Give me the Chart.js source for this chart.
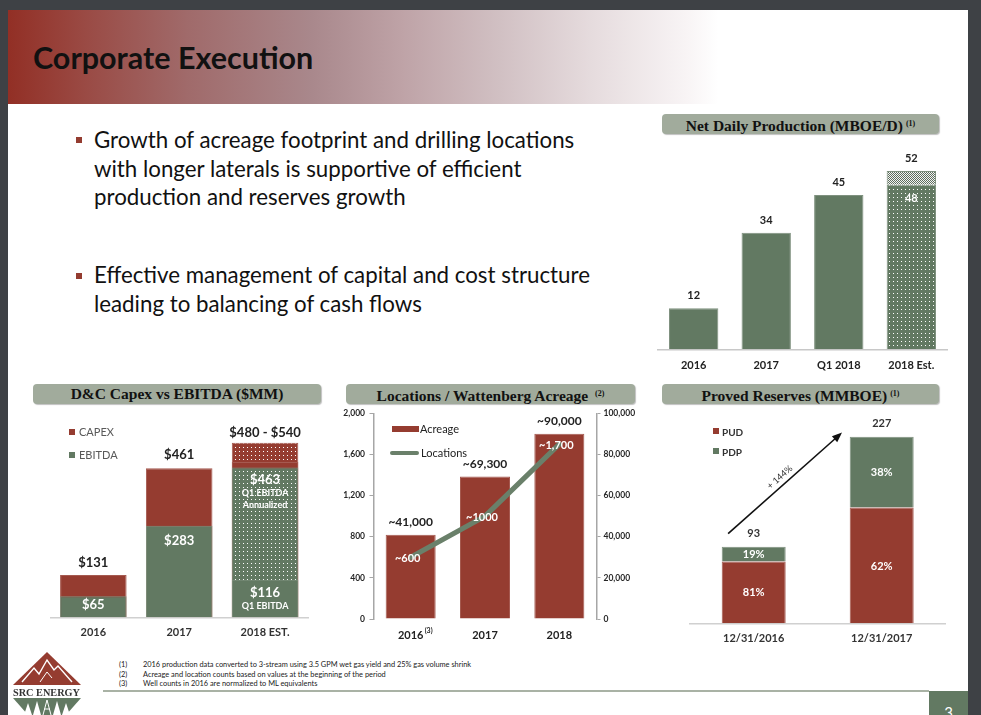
<!DOCTYPE html>
<html>
<head>
<meta charset="utf-8">
<script src="https://cdn.jsdelivr.net/npm/chart.js@4.4.0/dist/chart.umd.min.js"></script>
<style>
  body { margin: 0; width: 981px; height: 715px; background: #3e4145; overflow: hidden; font-family: Lato, sans-serif; position: relative; }
  .abs { position: absolute; }
  #slide { left: 8px; top: 10px; width: 960px; height: 705px; background: #fff; }
  #header { left: 8px; top: 10px; width: 960px; height: 94px;
    background: linear-gradient(to right, #922f25 0%, #9a4a44 8%, #a06a6a 18.6%, #a9888c 31.7%, #bea2a6 40.8%, #d1c0c3 51.2%, #e6dcde 61%, #f8f4f5 70.7%, #fff 74%); }
  #title { left: 33px; top: 37px; font-size: 30.5px; font-weight: bold; color: #111; white-space: nowrap; line-height: 40px; }
  .bullet { left: 94px; font-size: 22.3px; line-height: 28.5px; color: #111; white-space: nowrap; }
  .sq { width: 6px; height: 6px; background: #943c30; }
  .banner { background: #a1ab9c; border-radius: 4px; box-shadow: 1px 1px 1px rgba(0,0,0,0.25);
    font-family: "Liberation Serif", serif; font-weight: bold; font-size: 15.5px; color: #111;
    text-align: center; line-height: 20px; height: 20px; white-space: nowrap; }
  .banner sup { font-size: 8px; vertical-align: 5px; margin-left: 3px; }
  .leg { font-size: 11px; white-space: nowrap; line-height: 12px; }
  .foot { font-size: 7.4px; color: #222; white-space: nowrap; line-height: 9px; }
  canvas { position: absolute; }
</style>
</head>
<body>
<div id="slide" class="abs"></div>
<div id="header" class="abs"></div>
<div id="title" class="abs">Corporate Execution</div>

<div class="abs sq" style="left:76px; top:137px;"></div>
<div class="abs bullet" style="top:126px;">Growth of acreage footprint and drilling locations<br>with longer laterals is supportive of efficient<br>production and reserves growth</div>
<div class="abs sq" style="left:76px; top:273px;"></div>
<div class="abs bullet" style="top:261px;">Effective management of capital and cost structure<br>leading to balancing of cash flows</div>

<div class="abs banner" style="left:662px; top:114px; width:277px;">Net Daily Production (MBOE/D)<sup>(1)</sup></div>
<div class="abs banner" style="left:33px; top:384px; width:288px;">D&amp;C Capex vs EBITDA ($MM)</div>
<div class="abs banner" style="left:346px; top:384px; width:289px;">Locations / Wattenberg Acreage <sup>(2)</sup></div>
<div class="abs banner" style="left:662px; top:384px; width:277px;">Proved Reserves (MMBOE)<sup>(1)</sup></div>

<canvas id="prodChart" width="320" height="240" style="left:640px; top:140px;"></canvas>
<canvas id="capexChart" width="300" height="240" style="left:30px; top:410px;"></canvas>
<canvas id="locChart" width="325" height="250" style="left:325px; top:400px;"></canvas>
<canvas id="resChart" width="300" height="245" style="left:660px; top:405px;"></canvas>

<!-- legends -->
<div class="abs" style="left:69px; top:429px; width:6px; height:6px; background:#953c30;"></div>
<div class="abs leg" style="left:79px; top:426px; color:#595959;">CAPEX</div>
<div class="abs" style="left:69px; top:452px; width:6px; height:6px; background:#627962;"></div>
<div class="abs leg" style="left:79px; top:449px; color:#595959;">EBITDA</div>

<div class="abs" style="left:392px; top:426px; width:27px; height:6px; background:#953c30;"></div>
<div class="abs leg" style="left:420px; top:423px; color:#222;">Acreage</div>
<div class="abs" style="left:390px; top:451px; width:29px; height:4px; border-radius:2px; background:#6a806a;"></div>
<div class="abs leg" style="left:421px; top:447px; color:#222;">Locations</div>

<div class="abs" style="left:713px; top:428px; width:6px; height:6px; background:#953c30;"></div>
<div class="abs leg" style="left:722px; top:426px; color:#333; font-weight:bold; font-size:10px;">PUD</div>
<div class="abs" style="left:713px; top:448px; width:6px; height:6px; background:#627962;"></div>
<div class="abs leg" style="left:722px; top:446px; color:#333; font-weight:bold; font-size:10px;">PDP</div>

<!-- footnotes -->
<div class="abs foot" style="left:119px; top:660px;">(1)</div>
<div class="abs foot" style="left:143px; top:660px;">2016 production data converted to 3-stream using 3.5 GPM wet gas yield and 25% gas volume shrink</div>
<div class="abs foot" style="left:119px; top:670px;">(2)</div>
<div class="abs foot" style="left:143px; top:670px;">Acreage and location counts based on values at the beginning of the period</div>
<div class="abs foot" style="left:119px; top:679px;">(3)</div>
<div class="abs foot" style="left:143px; top:679px;">Well counts in 2016 are normalized to ML equivalents</div>
<div class="abs" style="left:103px; top:690px; width:826px; height:2px; background:#a9b2a5;"></div>
<div class="abs" style="left:929px; top:691px; width:39px; height:24px; background:#627962; color:#fff; font-size:15px; text-align:center; line-height:42px; overflow:hidden;">3</div>

<!-- logo -->
<svg class="abs" style="left:0; top:640px;" width="100" height="75" viewBox="0 640 100 75">
  <polygon points="47,652 13,685 81,685" fill="#953c30"/>
  <polyline points="22,682 34,668 39,674 47,660 54,670 58,666 72,682" fill="none" stroke="#fff" stroke-width="1.4"/>
  <polyline points="40,682 47,672 52,678" fill="none" stroke="#fff" stroke-width="1"/>
  <text x="13" y="696" textLength="67" lengthAdjust="spacingAndGlyphs" font-family="Liberation Serif" font-weight="bold" font-size="11" fill="#333">SRC ENERGY</text>
  <polygon points="13,698 81,698 66,715 28,715" fill="#627962"/>
  <polygon points="24,715 28,703 32,715" fill="#fff"/>
  <polygon points="33,715 37,701 41,715" fill="#fff"/>
  <polygon points="53,715 57,701 61,715" fill="#fff"/>
  <polygon points="62,715 66,703 70,715" fill="#fff"/>
  <polyline points="43,715 47,700 51,715" fill="none" stroke="#fff" stroke-width="1"/>
  <line x1="44" y1="709" x2="50" y2="709" stroke="#fff" stroke-width="1"/>
</svg>

<script>
// ---- data ----
const prodCategories = ['2016', '2017', 'Q1 2018', '2018 Est.'];
const prodBase = [12, 34, 45, 48];
const prodUpside = [0, 0, 0, 4];
const prodLabels = ['12', '34', '45', '52'];

const capexCategories = ['2016', '2017', '2018 EST.'];
const capexLow = [131, 461, 480];
const capexHigh = [null, null, 540];
const ebitda = [65, 283, 116];
const ebitdaAnnualized = [null, null, 463];

const locCategories = ['2016', '2017', '2018'];
const acreage = [41000, 69300, 90000];
const locations = [600, 1000, 1700];
const acreageLabels = ['~41,000', '~69,300', '~90,000'];
const locationLabels = ['~600', '~1000', '~1,700'];
const locLeftTicks = [0, 400, 800, 1200, 1600, 2000];
const locRightTicks = [0, 20000, 40000, 60000, 80000, 100000];

const resCategories = ['12/31/2016', '12/31/2017'];
const resTotals = [93, 227];
const pudShare = [81, 62];
const pdpShare = [19, 38];
const resGrowthLabel = '+ 144%';

// ---- styles ----
const RED = '#953c30';
const GREEN = '#627962';
const LABEL_DARK = '#222';

function dots(bg, fg, size, pts) {
  const c = document.createElement('canvas');
  c.width = c.height = size;
  const g = c.getContext('2d');
  g.fillStyle = bg;
  g.fillRect(0, 0, size, size);
  g.fillStyle = fg;
  pts.forEach(p => g.fillRect(p[0], p[1], 1, 1));
  return g.createPattern(c, 'repeat');
}
const greenDots = dots(GREEN, '#ffffff', 4, [[1, 1]]);
const redDots = dots(RED, '#ffffff', 4, [[1, 1]]);
const greyDots = dots('#f4f4f4', '#5e6f5e', 2, [[0, 0], [1, 1]]);

// draws text items anchored on bars / points
const barLabels = {
  id: 'barLabels',
  afterDatasetsDraw(chart, args, opts) {
    const ctx = chart.ctx;
    (opts.items || []).forEach(it => {
      const el = chart.getDatasetMeta(it.ds).data[it.i];
      let y = it.center ? (el.y + el.base) / 2 : el.y;
      ctx.save();
      ctx.font = it.font;
      ctx.fillStyle = it.color;
      ctx.textAlign = 'center';
      ctx.textBaseline = 'middle';
      ctx.fillText(it.text, el.x + (it.dx || 0), y + (it.dy || 0));
      ctx.restore();
    });
  }
};

const xTickFont = { family: 'Lato', weight: 'bold', size: 11 };
const noTips = { legend: { display: false }, tooltip: { enabled: false } };

// ---- Net Daily Production ----
const prodItems = prodLabels.map((t, i) => ({
  ds: prodUpside[i] > 0 ? 1 : 0, i, text: t, dy: -12.7,
  font: 'bold 11px Lato', color: LABEL_DARK
}));
prodItems.push({ ds: 0, i: 3, text: String(prodBase[3]), dy: 13.6, font: 'bold 11px Lato', color: '#fff' });

new Chart(document.getElementById('prodChart'), {
  type: 'bar',
  data: {
    labels: prodCategories,
    datasets: [
      { data: prodBase, backgroundColor: prodBase.map((v, i) => prodUpside[i] ? greenDots : GREEN),
        borderColor: '#7f917f', borderWidth: 1, barPercentage: 0.68, categoryPercentage: 1 },
      { data: prodUpside, backgroundColor: greyDots, borderColor: '#7f917f', borderWidth: 1,
        barPercentage: 0.68, categoryPercentage: 1 }
    ]
  },
  options: {
    responsive: false, animation: false,
    layout: { padding: { left: 17.4, right: 12.4, top: 3.5, bottom: 4.7 } },
    plugins: Object.assign({ barLabels: { items: prodItems } }, noTips),
    scales: {
      x: { stacked: true, grid: { display: false, drawTicks: false },
           border: { display: true, color: '#c8c8c8', width: 1.5 },
           ticks: { color: LABEL_DARK, font: xTickFont, padding: 10 },
           afterFit: s => { s.height = 26; } },
      y: { stacked: true, display: false, min: 0, max: 60 }
    }
  },
  plugins: [barLabels]
});

// ---- D&C Capex vs EBITDA ----
const big = 'bold 13px Lato', small = 'bold 9px Lato';
const capexItems = [
  { ds: 2, i: 0, text: '$131', dy: -12.6, font: big, color: LABEL_DARK },
  { ds: 2, i: 1, text: '$461', dy: -13, font: big, color: LABEL_DARK },
  { ds: 3, i: 2, text: '$480 - $540', dy: -9.4, font: big, color: LABEL_DARK },
  { ds: 0, i: 0, text: '$65', dy: 9, font: big, color: '#fff' },
  { ds: 0, i: 1, text: '$283', dy: 14.6, font: big, color: '#fff' },
  { ds: 1, i: 2, text: '$463', dy: 12.4, font: big, color: '#fff' },
  { ds: 1, i: 2, text: 'Q1 EBITDA', dy: 25.7, font: small, color: '#fff' },
  { ds: 1, i: 2, text: 'Annualized', dy: 37.4, font: small, color: '#fff' },
  { ds: 0, i: 2, text: '$116', dy: 13.5, font: big, color: '#fff' },
  { ds: 0, i: 2, text: 'Q1 EBITDA', dy: 26, font: small, color: '#fff' }
];
const capexBar = { grouped: false, barPercentage: 0.775, categoryPercentage: 1, borderWidth: 1 };

new Chart(document.getElementById('capexChart'), {
  type: 'bar',
  data: {
    labels: capexCategories,
    datasets: [
      Object.assign({ label: 'EBITDA', data: ebitda, backgroundColor: GREEN, borderColor: '#7f917f' }, capexBar),
      Object.assign({ label: 'EBITDA annualized', data: ebitdaAnnualized, backgroundColor: greenDots, borderColor: '#7f917f' }, capexBar),
      Object.assign({ label: 'CAPEX', data: capexLow, backgroundColor: RED, borderColor: '#a55a50' }, capexBar),
      Object.assign({ label: 'CAPEX high', data: capexHigh, backgroundColor: redDots, borderColor: '#a55a50' }, capexBar)
    ]
  },
  options: {
    responsive: false, animation: false,
    layout: { padding: { left: 20.4, right: 22, top: 13.3, bottom: 6.7 } },
    plugins: Object.assign({ barLabels: { items: capexItems } }, noTips),
    scales: {
      x: { grid: { display: false, drawTicks: false },
           border: { display: true, color: '#d0d0d0', width: 1.5 },
           ticks: { color: '#333', font: xTickFont, padding: 9 },
           afterFit: s => { s.height = 26; } },
      y: { display: false, min: 0, max: 600 }
    }
  },
  plugins: [barLabels]
});

// ---- Locations / Wattenberg Acreage ----
const locItems = acreageLabels.map((t, i) => ({ ds: 1, i, text: t, dy: -12.3, font: 'bold 12px Lato', color: LABEL_DARK }))
  .concat(locationLabels.map((t, i) => ({ ds: 0, i, text: t, dx: -3, dy: 1, font: 'bold 11px Lato', color: '#fff' })));

const footnoteMark = {
  id: 'footnoteMark',
  afterDraw(chart) {
    const ctx = chart.ctx, x = chart.scales.x;
    ctx.save();
    ctx.font = 'bold 7px Lato';
    ctx.fillStyle = LABEL_DARK;
    ctx.textBaseline = 'middle';
    ctx.fillText('(3)', x.getPixelForValue(0) + 14, x.top + 12);
    ctx.restore();
  }
};
const axisTickFont = { family: 'Lato', weight: 'bold', size: 8.5 };
const axisGray = '#a6a6a6';

new Chart(document.getElementById('locChart'), {
  data: {
    labels: locCategories,
    datasets: [
      { type: 'line', label: 'Locations', data: locations, yAxisID: 'y', order: 0,
        borderColor: '#6a806a', borderWidth: 5, pointRadius: 0, borderCapStyle: 'round', tension: 0 },
      { type: 'bar', label: 'Acreage', data: acreage, yAxisID: 'y1', order: 1,
        backgroundColor: RED, borderColor: '#a55a50', borderWidth: 1,
        barPercentage: 0.673, categoryPercentage: 1 }
    ]
  },
  options: {
    responsive: false, animation: false,
    layout: { padding: { left: 0, right: 0, top: 13.3, bottom: 0 } },
    plugins: Object.assign({ barLabels: { items: locItems } }, noTips),
    scales: {
      x: { grid: { display: false, drawTicks: false }, border: { display: false },
           ticks: { color: LABEL_DARK, font: xTickFont, padding: 9.4 },
           afterFit: s => { s.height = 31; } },
      y: { position: 'left', min: 0, max: 2000,
           afterBuildTicks: s => { s.ticks = locLeftTicks.map(v => ({ value: v })); },
           grid: { display: true, drawOnChartArea: false, drawTicks: true, tickLength: 4, color: axisGray },
           border: { display: true, color: axisGray, width: 1.5 },
           ticks: { color: '#262626', font: axisTickFont, padding: 4.5, callback: v => v.toLocaleString('en-US') },
           afterFit: s => { s.width = 48.5; } },
      y1: { position: 'right', min: 0, max: 100000,
           afterBuildTicks: s => { s.ticks = locRightTicks.map(v => ({ value: v })); },
           grid: { display: true, drawOnChartArea: false, drawTicks: true, tickLength: 4, color: axisGray },
           border: { display: true, color: axisGray, width: 1.5 },
           ticks: { color: '#262626', font: axisTickFont, padding: 3, callback: v => v.toLocaleString('en-US') },
           afterFit: s => { s.width = 53.5; } }
    }
  },
  plugins: [barLabels, footnoteMark]
});

// ---- Proved Reserves ----
const pud = resTotals.map((t, i) => t * pudShare[i] / 100);
const pdp = resTotals.map((t, i) => t * pdpShare[i] / 100);
const resItems = resTotals.map((t, i) => ({ ds: 1, i, text: String(t), dy: -13, font: 'bold 11px Lato', color: '#333' }))
  .concat(pudShare.map((p, i) => ({ ds: 0, i, text: p + '%', center: true, dy: 0.5, font: 'bold 11px Lato', color: '#fff' })))
  .concat(pdpShare.map((p, i) => ({ ds: 1, i, text: p + '%', center: true, dy: 0.5, font: 'bold 11px Lato', color: '#fff' })));

const growthArrow = {
  id: 'growthArrow',
  afterDatasetsDraw(chart) {
    const ctx = chart.ctx, x = chart.scales.x, y = chart.scales.y;
    const x0 = x.getPixelForValue(-0.2), y0 = y.getPixelForValue(109);
    const x1 = x.getPixelForValue(0.69), y1 = y.getPixelForValue(232);
    const a = Math.atan2(y1 - y0, x1 - x0);
    ctx.save();
    ctx.strokeStyle = '#111';
    ctx.fillStyle = '#111';
    ctx.lineWidth = 1.6;
    ctx.beginPath();
    ctx.moveTo(x0, y0);
    ctx.lineTo(x1 - 7 * Math.cos(a), y1 - 7 * Math.sin(a));
    ctx.stroke();
    ctx.beginPath();
    ctx.moveTo(x1, y1);
    ctx.lineTo(x1 - 10 * Math.cos(a) + 4 * Math.sin(a), y1 - 10 * Math.sin(a) - 4 * Math.cos(a));
    ctx.lineTo(x1 - 10 * Math.cos(a) - 4 * Math.sin(a), y1 - 10 * Math.sin(a) + 4 * Math.cos(a));
    ctx.closePath();
    ctx.fill();
    const mx = x0 + (x1 - x0) * 0.5, my = y0 + (y1 - y0) * 0.5;
    ctx.translate(mx + 8 * Math.sin(a), my - 8 * Math.cos(a));
    ctx.rotate(a);
    ctx.font = '9px Lato';
    ctx.fillStyle = '#333';
    ctx.textAlign = 'center';
    ctx.textBaseline = 'middle';
    ctx.fillText(resGrowthLabel, 0, 0);
    ctx.restore();
  }
};

new Chart(document.getElementById('resChart'), {
  type: 'bar',
  data: {
    labels: resCategories,
    datasets: [
      { label: 'PUD', data: pud, backgroundColor: RED, borderColor: '#a55a50', borderWidth: 1, barPercentage: 0.5, categoryPercentage: 1 },
      { label: 'PDP', data: pdp, backgroundColor: GREEN, borderColor: '#7f917f', borderWidth: 1, barPercentage: 0.5, categoryPercentage: 1 }
    ]
  },
  options: {
    responsive: false, animation: false,
    layout: { padding: { left: 29.7, right: 14.3, top: 4.6, bottom: 4.7 } },
    plugins: Object.assign({ barLabels: { items: resItems } }, noTips),
    scales: {
      x: { stacked: true, grid: { display: false, drawTicks: false },
           border: { display: true, color: '#d0d0d0', width: 1.5 },
           ticks: { color: '#333', font: xTickFont, padding: 8.4 },
           afterFit: s => { s.height = 22; } },
      y: { stacked: true, display: false, min: 0, max: 260 }
    }
  },
  plugins: [barLabels, growthArrow]
});
</script>
</body>
</html>
